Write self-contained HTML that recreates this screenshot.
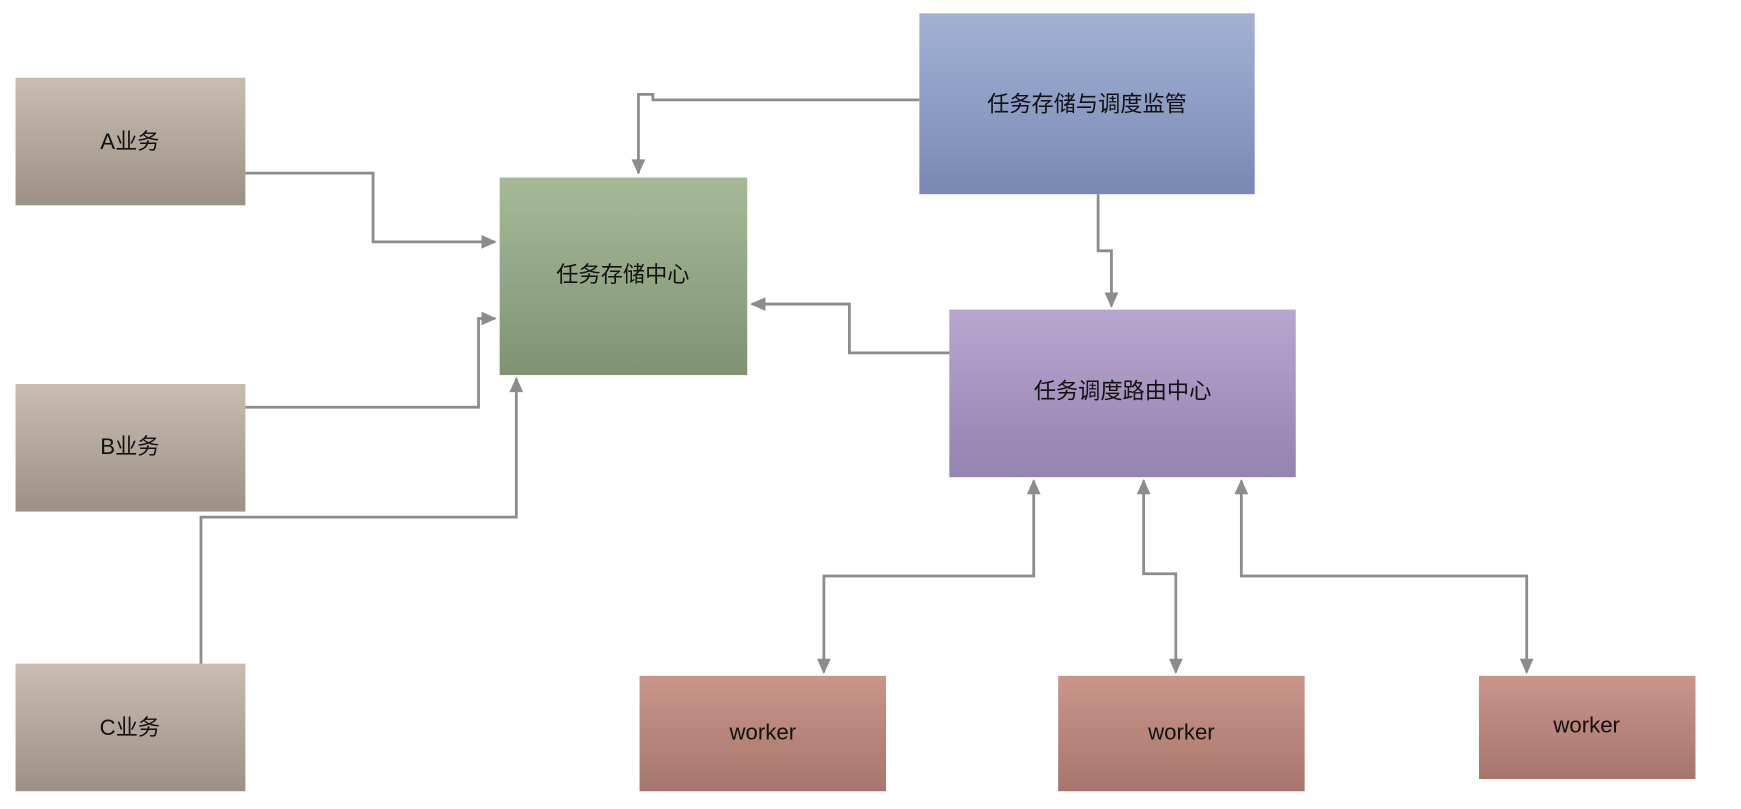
<!DOCTYPE html>
<html><head><meta charset="utf-8"><style>
html,body{margin:0;padding:0;background:#fff;width:1741px;height:809px;overflow:hidden}
svg{display:block}
text{font-family:"Liberation Sans","Noto Sans CJK SC",sans-serif;font-size:20px;fill:#111;text-anchor:middle;dominant-baseline:middle}
</style></head><body>
<svg width="1741" height="809" viewBox="0 0 1568 729" preserveAspectRatio="none">
<defs>
<linearGradient id="gb" x1="0" y1="0" x2="0" y2="1"><stop offset="0" stop-color="#c9bcb0"/><stop offset="1" stop-color="#9d9186"/></linearGradient>
<linearGradient id="gg" x1="0" y1="0" x2="0" y2="1"><stop offset="0" stop-color="#a6ba98"/><stop offset="1" stop-color="#7f9372"/></linearGradient>
<linearGradient id="gbl" x1="0" y1="0" x2="0" y2="1"><stop offset="0" stop-color="#a3b2d3"/><stop offset="1" stop-color="#7888b5"/></linearGradient>
<linearGradient id="gp" x1="0" y1="0" x2="0" y2="1"><stop offset="0" stop-color="#b9a6cf"/><stop offset="1" stop-color="#9482b0"/></linearGradient>
<linearGradient id="gr" x1="0" y1="0" x2="0" y2="1"><stop offset="0" stop-color="#cb958a"/><stop offset="1" stop-color="#a6766c"/></linearGradient>
<marker id="ar" viewBox="0 0 10 10" refX="9" refY="5" markerWidth="6" markerHeight="5.5" orient="auto-start-reverse" markerUnits="strokeWidth"><path d="M0,0.5 L10,5 L0,9.5 z" fill="#8c8c8c"/></marker>
</defs>
<rect x="14" y="70" width="207" height="115" fill="url(#gb)"/><text x="117" y="129">A业务</text>
<rect x="14" y="346" width="207" height="115" fill="url(#gb)"/><text x="117" y="404">B业务</text>
<rect x="14" y="598" width="207" height="115" fill="url(#gb)"/><text x="117" y="657">C业务</text>
<rect x="450" y="160" width="223" height="178" fill="url(#gg)"/><text x="561" y="249">任务存储中心</text>
<rect x="828" y="12" width="302" height="163" fill="url(#gbl)"/><text x="979" y="95">任务存储与调度监管</text>
<rect x="855" y="279" width="312" height="151" fill="url(#gp)"/><text x="1011" y="354">任务调度路由中心</text>
<rect x="576" y="609" width="222" height="104" fill="url(#gr)"/><text x="687" y="661">worker</text>
<rect x="953" y="609" width="222" height="104" fill="url(#gr)"/><text x="1064" y="661">worker</text>
<rect x="1332" y="609" width="195" height="93" fill="url(#gr)"/><text x="1429" y="655">worker</text>
<g fill="none" stroke="#8c8c8c" stroke-width="2.5">
<path d="M221,156 H336 V218 H446" marker-end="url(#ar)"/>
<path d="M221,367 H431 V287 H446" marker-end="url(#ar)"/>
<path d="M181,598 V466 H465 V341" marker-end="url(#ar)"/>
<path d="M828,90 H588 V85 H575 V156" marker-end="url(#ar)"/>
<path d="M989,175 V226 H1001 V276" marker-end="url(#ar)"/>
<path d="M855,318 H765 V274 H677" marker-end="url(#ar)"/>
<path d="M931,433 V519 H742 V606" marker-start="url(#ar)" marker-end="url(#ar)"/>
<path d="M1030,433 V517 H1059 V606" marker-start="url(#ar)" marker-end="url(#ar)"/>
<path d="M1118,433 V519 H1375 V606" marker-start="url(#ar)" marker-end="url(#ar)"/>
</g>
</svg>
</body></html>
